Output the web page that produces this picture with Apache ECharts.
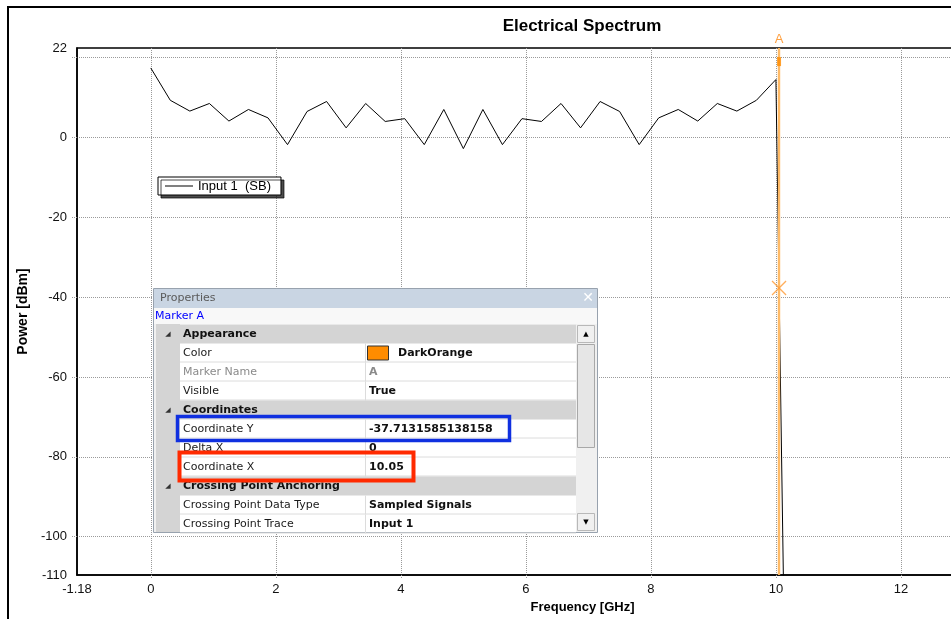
<!DOCTYPE html>
<html><head><meta charset="utf-8">
<script src="https://cdn.jsdelivr.net/npm/echarts@6/dist/echarts.min.js"></script>
<style>html,body{margin:0;padding:0;background:#fff}#c{width:951px;height:619px}</style>
</head><body><div id="c"></div>
<script>
// ---- data ----
const frequencyGHz = [0, 0.3125, 0.625, 0.9375, 1.25, 1.5625, 1.875, 2.1875, 2.5, 2.8125,
  3.125, 3.4375, 3.75, 4.0625, 4.375, 4.6875, 5, 5.3125, 5.625, 5.9375,
  6.25, 6.5625, 6.875, 7.1875, 7.5, 7.8125, 8.125, 8.4375, 8.75, 9.0625,
  9.375, 9.6875, 10, 10.3125];
const powerDbm = [17.4, 9.3, 6.6, 8.5, 4.1, 7.0, 4.9, -1.8, 6.5, 9.0,
  2.4, 8.5, 4.0, 4.7, -1.8, 7.0, -2.8, 7.0, -1.8, 4.7,
  4.0, 8.5, 2.4, 9.0, 6.5, -1.8, 4.9, 7.0, 4.1, 8.5,
  6.6, 9.3, 14.5, -311.8];
const seriesName = 'Input 1  (SB)';
const xRange = [-1.18, 14.8];
const yRange = [-109.6, 22.4];
const xTickValues = [0, 2, 4, 6, 8, 10, 12, 14];
const xLabelValues = [-1.18, 0, 2, 4, 6, 8, 10, 12, 14];
const yTickValues = [20, 0, -20, -40, -60, -80, -100];
const yLabelValues = [22.4, 0, -20, -40, -60, -80, -100, -109.6];
const markerName = 'A';
const markerX = 10.05;
const markerY = -37.7131585138158;
const markerHandleY = 19;
// property grid rows: [kind, name, value]
const propertyRows = [
  ['cat', 'Appearance', ''],
  ['color', 'Color', 'DarkOrange'],
  ['dim', 'Marker Name', 'A'],
  ['prop', 'Visible', 'True'],
  ['cat', 'Coordinates', ''],
  ['prop', 'Coordinate Y', '-37.7131585138158'],
  ['prop', 'Delta X', '0'],
  ['prop', 'Coordinate X', '10.05'],
  ['cat', 'Crossing Point Anchoring', ''],
  ['prop', 'Crossing Point Data Type', 'Sampled Signals'],
  ['prop', 'Crossing Point Trace', 'Input 1']
];

// ---- build ----
const lineData = frequencyGHz.map((f, i) => [f, powerDbm[i]]);
const F = 'Liberation Sans, Arial, sans-serif';
const PF = 'DejaVu Sans, Verdana, sans-serif';

function panel() {
  const els = [];
  const z = 100;
  els.push({type:'rect', z, shape:{x:153.5,y:288.5,width:444,height:244}, style:{fill:'#F0F0F0', stroke:'#98A2AE', lineWidth:1}});
  els.push({type:'rect', z, shape:{x:154,y:289,width:443,height:19}, style:{fill:'#C9D5E3'}});
  els.push({type:'text', z, style:{text:'Properties', x:160, y:298.5, font:'11px '+PF, fill:'#5A5A5A', verticalAlign:'middle'}});
  els.push({type:'text', z, style:{text:'✕', x:588, y:298, font:'bold 14px '+PF, fill:'#fff', align:'center', verticalAlign:'middle'}});
  els.push({type:'rect', z, shape:{x:154,y:308,width:443,height:16}, style:{fill:'#F8F8F8'}});
  els.push({type:'text', z, style:{text:'Marker A', x:155, y:316.5, font:'11px '+PF, fill:'#0000FF', verticalAlign:'middle'}});
  els.push({type:'rect', z, shape:{x:156,y:324,width:420,height:208}, style:{fill:'#fff'}});
  els.push({type:'rect', z, shape:{x:156,y:324,width:24,height:208}, style:{fill:'#D4D4D4'}});
  const y0 = 324.5, rh = 19;
  propertyRows.forEach((r, i) => {
    const y = y0 + i * rh;
    const my = y + rh / 2;
    if (r[0] === 'cat') {
      els.push({type:'rect', z, shape:{x:156,y:y,width:420,height:rh}, style:{fill:'#D4D4D4'}});
      els.push({type:'text', z, style:{text:'◢', x:168, y:my, font:'7px '+PF, fill:'#333', align:'center', verticalAlign:'middle'}});
      els.push({type:'text', z, style:{text:r[1], x:183, y:my, font:'bold 11px '+PF, fill:'#111', verticalAlign:'middle'}});
    } else {
      els.push({type:'line', z, shape:{x1:180,y1:y+rh-0.5,x2:576,y2:y+rh-0.5}, style:{stroke:'#DCDCDC', lineWidth:1}});
      els.push({type:'line', z, shape:{x1:365.5,y1:y,x2:365.5,y2:y+rh}, style:{stroke:'#DCDCDC', lineWidth:1}});
      const dim = r[0] === 'dim';
      els.push({type:'text', z, style:{text:r[1], x:183, y:my, font:'11px '+PF, fill: dim ? '#8A8A8A' : '#1A1A1A', verticalAlign:'middle'}});
      let vx = 369;
      if (r[0] === 'color') {
        els.push({type:'rect', z, shape:{x:367.5,y:y+2.5,width:21,height:14}, style:{fill:'#FF8C00', stroke:'#333', lineWidth:1}});
        vx = 398;
      }
      els.push({type:'text', z, style:{text:r[2], x:vx, y:my, font:'bold 11px '+PF, fill: dim ? '#8A8A8A' : '#111', verticalAlign:'middle'}});
    }
  });
  // scrollbar
  els.push({type:'rect', z, shape:{x:576,y:324,width:20,height:208}, style:{fill:'#F0F0F0'}});
  els.push({type:'rect', z, shape:{x:577.5,y:325.5,width:17,height:17}, style:{fill:'#F0F0F0', stroke:'#B8B8B8'}});
  els.push({type:'text', z, style:{text:'▲', x:586, y:334, font:'7px '+PF, fill:'#000', align:'center', verticalAlign:'middle'}});
  els.push({type:'rect', z, shape:{x:577.5,y:344.5,width:17,height:103}, style:{fill:'#E6E6E6', stroke:'#A8A8A8'}});
  els.push({type:'rect', z, shape:{x:577.5,y:513.5,width:17,height:17}, style:{fill:'#F0F0F0', stroke:'#B8B8B8'}});
  els.push({type:'text', z, style:{text:'▼', x:586, y:522.5, font:'7px '+PF, fill:'#000', align:'center', verticalAlign:'middle'}});
  // highlight boxes
  els.push({type:'rect', z:z+1, shape:{x:177.5,y:416.5,width:332,height:24}, style:{fill:'none', stroke:'#1030E0', lineWidth:3.5}});
  els.push({type:'rect', z:z+1, shape:{x:179.5,y:452.5,width:234,height:28}, style:{fill:'none', stroke:'#FF2A00', lineWidth:4}});
  return els;
}

const chart = echarts.init(document.getElementById('c'), null, {renderer:'canvas'});
chart.setOption({
  animation: false,
  backgroundColor: '#fff',
  title: {
    text: 'Electrical Spectrum', left: 577, top: 13, textAlign: 'center',
    textStyle: {fontFamily: F, fontWeight: 'bold', fontSize: 17, color: '#000'}
  },
  legend: {
    data: [{name: seriesName, icon: 'rect'}], left: 158, top: 177, orient: 'horizontal',
    itemWidth: 28, itemHeight: 1, itemGap: 6,
    padding: [2, 10, 2, 7],
    itemStyle: {color: '#000', borderWidth: 0},
    backgroundColor: '#fff', borderColor: '#000', borderWidth: 1,
    shadowColor: 'rgba(0,0,0,0.7)', shadowBlur: 0, shadowOffsetX: 3, shadowOffsetY: 3,
    textStyle: {fontFamily: F, fontSize: 13, color: '#000', lineHeight: 14},
    selectedMode: false
  },
  grid: {left: 77, top: 48, width: 999, height: 527, containLabel: false, outerBoundsMode: 'none',
    show: true, borderColor: '#000', borderWidth: 1.5, backgroundColor: 'transparent'},
  xAxis: {
    type: 'value', min: xRange[0], max: xRange[1],
    name: 'Frequency [GHz]', nameLocation: 'middle', nameGap: 24,
    nameTextStyle: {fontFamily: F, fontWeight: 'bold', fontSize: 13, color: '#000', padding: [0, 0, 0, 12]},
    axisLine: {show: true, onZero: false, lineStyle: {color: '#000', width: 1.5}},
    axisTick: {show: true, customValues: xTickValues, length: 4, lineStyle: {color: '#9A9A9A', type: 'dotted'}},
    axisLabel: {customValues: xLabelValues, formatter: v => String(v), margin: 8,
      fontFamily: F, fontSize: 13, color: '#111'},
    splitLine: {show: true, lineStyle: {color: '#9A9A9A', type: 'dotted', width: 1}}
  },
  yAxis: {
    type: 'value', min: yRange[0], max: yRange[1],
    name: 'Power [dBm]', nameLocation: 'middle', nameGap: 39, nameRotate: 90,
    nameTextStyle: {fontFamily: F, fontWeight: 'bold', fontSize: 14, color: '#000'},
    axisLine: {show: true, onZero: false, lineStyle: {color: '#000', width: 1.5}},
    axisTick: {show: true, customValues: yTickValues, length: 5, lineStyle: {color: '#9A9A9A', type: 'dotted'}},
    axisLabel: {customValues: yLabelValues, formatter: v => String(Math.round(v)), margin: 10,
      fontFamily: F, fontSize: 13, color: '#111'},
    splitLine: {show: true, lineStyle: {color: '#9A9A9A', type: 'dotted', width: 1}}
  },
  series: [
    {
      name: seriesName, type: 'line', data: lineData, symbol: 'none', clip: true, z: 2,
      lineStyle: {color: '#000', width: 1}, itemStyle: {color: '#000'}
    },
    {
      name: 'markerA', type: 'scatter', z: 4, clip: false,
      data: [[markerX, markerY]],
      symbol: 'path://M0,0L10,10M10,0L0,10', symbolSize: 14,
      itemStyle: {color: 'none', borderColor: '#FF9A33', borderWidth: 1.3},
      markLine: {
        silent: true, symbol: ['none', 'none'], z: 4,
        lineStyle: {color: '#FFBA66', width: 2.4, type: 'solid', opacity: 1},
        label: {show: true, position: 'end', formatter: markerName, distance: 2,
          color: '#FFA040', fontFamily: F, fontSize: 13},
        data: [{xAxis: markerX}]
      }
    },
    {
      name: 'markerHandle', type: 'scatter', z: 5, data: [[markerX, markerHandleY]],
      symbol: 'rect', symbolSize: [4, 9], itemStyle: {color: '#FF8C00'}
    }
  ],
  graphic: [
    {type: 'rect', z: 0, shape: {x: 8, y: 7, width: 1200, height: 900},
      style: {fill: 'none', stroke: '#000', lineWidth: 2}},
    ...panel()
  ]
});
</script></body></html>
